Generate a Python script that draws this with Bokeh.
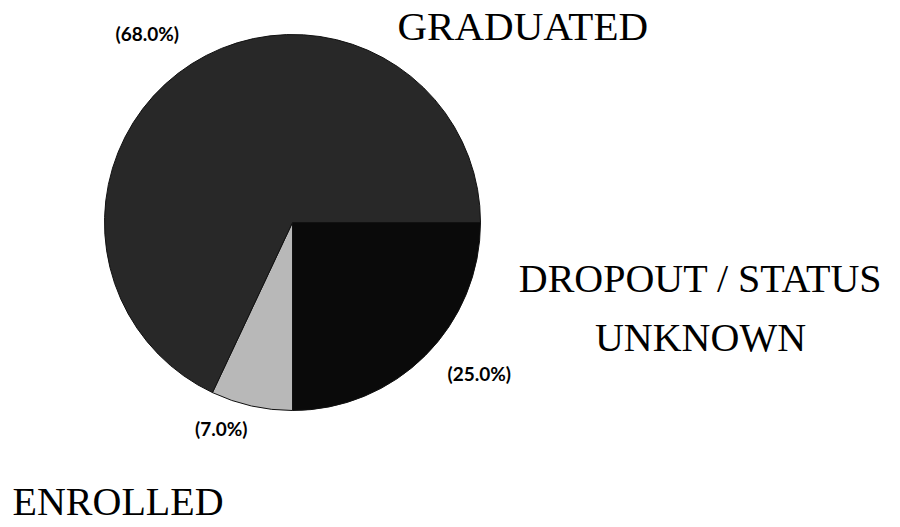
import numpy as np
from bokeh.plotting import figure
from bokeh.models import ColumnDataSource, Range1d
from bokeh.core.properties import value
from bokeh.embed import file_html
from bokeh.resources import INLINE

# ---- data ----
categories = ["DROPOUT / STATUS UNKNOWN", "ENROLLED", "GRADUATED"]
percents = [25.0, 7.0, 68.0]
colors = ["#0a0a0a", "#b8b8b8", "#282828"]

W, H = 900, 527

frac = np.array(percents) / sum(percents)
cum = np.concatenate([[0.0], np.cumsum(frac)])
start = -2 * np.pi * cum[:-1]
end = -2 * np.pi * cum[1:]

src = ColumnDataSource(dict(cat=categories, val=percents, start=start, end=end, color=colors))

p = figure(width=W, height=H, x_range=Range1d(0, W), y_range=Range1d(0, H),
           output_backend="svg", toolbar_location=None, min_border=0)
p.axis.visible = False
p.grid.visible = False
p.outline_line_color = None
p.background_fill_color = "white"
p.border_fill_color = "white"

cx, cy = 292, H - 222
p.wedge(x=cx, y=cy, radius=188, radius_units="screen",
        start_angle="start", end_angle="end", direction="clock",
        fill_color="color", line_color="#111111", line_width=1, source=src)

serif = value("Liberation Serif")
sans = value("Lato")

# category labels
p.text(x=[397], y=[H - 25], text=["GRADUATED"], text_font=serif, text_font_size="41px",
       text_color="black", text_align="left", text_baseline="alphabetic")
p.text(x=[700, 700], y=[H - 278, H - 337], text=["DROPOUT / STATUS", "UNKNOWN"],
       text_font=serif, text_font_size="40px", text_color="black",
       text_align="center", text_baseline="alphabetic")
p.text(x=[12], y=[H - 501], text=["ENROLLED"], text_font=serif, text_font_size="40px",
       text_color="black", text_align="left", text_baseline="alphabetic")

# percent labels
lab = {c: f"({v:.1f}%)" for c, v in zip(categories, percents)}
p.text(x=[115], y=[H - 33], text=[lab["GRADUATED"]], text_font=sans, text_font_style="bold",
       text_font_size="19px", text_color="black", text_align="left", text_baseline="alphabetic")
p.text(x=[447], y=[H - 373], text=[lab["DROPOUT / STATUS UNKNOWN"]], text_font=sans,
       text_font_style="bold", text_font_size="19px", text_color="black",
       text_align="left", text_baseline="alphabetic")
p.text(x=[247], y=[H - 428], text=[lab["ENROLLED"]], text_font=sans, text_font_style="bold",
       text_font_size="19px", text_color="black", text_align="right", text_baseline="alphabetic")

open("out.html", "w").write(file_html(p, INLINE))
